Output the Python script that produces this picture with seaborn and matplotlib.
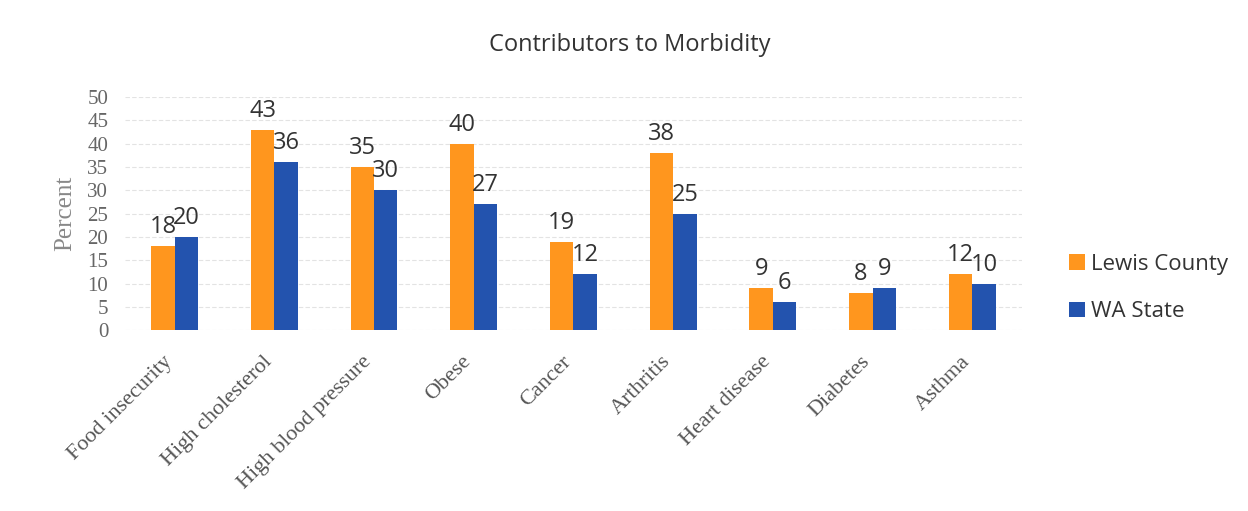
import pandas as pd
import numpy as np
import seaborn as sns
import matplotlib.pyplot as plt
import matplotlib.transforms as mtransforms

categories = ['Food insecurity', 'High cholesterol', 'High blood pressure', 'Obese',
              'Cancer', 'Arthritis', 'Heart disease', 'Diabetes', 'Asthma']
lewis_county = [18, 43, 35, 40, 19, 38, 9, 8, 12]
wa_state = [20, 36, 30, 27, 12, 25, 6, 9, 10]
series_names = ['Lewis County', 'WA State']
yticks = list(range(0, 55, 5))

df = pd.DataFrame({
    'category': categories * 2,
    'percent': lewis_county + wa_state,
    'area': [series_names[0]] * len(categories) + [series_names[1]] * len(categories),
})

sns.set_style('white')
plt.rcParams['font.family'] = ['Open Sans', 'DejaVu Sans']

fig = plt.figure(figsize=(12.48, 5.11), dpi=100)
ax = fig.add_axes([0.1, 0.354, 0.719, 0.456])

palette = {'Lewis County': '#FF961E', 'WA State': '#2353AE'}
sns.barplot(data=df, x='category', y='percent', hue='area', palette=palette,
            width=0.47, ax=ax, saturation=1, linewidth=0, legend=True)

ax.set_ylim(0, 50)
ax.set_xlim(-0.5, len(categories) - 0.5)
ax.set_yticks(yticks)
ax.yaxis.grid(True, color='#e3e3e3', linestyle=(0, (4, 2)), linewidth=0.8)
ax.set_axisbelow(True)
for s in ax.spines.values():
    s.set_visible(False)

serif = ['Liberation Serif', 'DejaVu Serif']
ax.set_yticklabels([str(t) for t in yticks], family=serif, fontsize=15, color='#666666')
ax.set_xticks(range(len(categories)))
ax.set_xticklabels(categories, rotation=45, ha='right', rotation_mode='anchor',
                   family=serif, fontsize=16, color='#555555')
ax.tick_params(axis='x', length=0, pad=16)
ax.tick_params(axis='y', length=0, pad=12)
ax.set_xlabel('')
ax.set_ylabel('Percent', family=serif, fontsize=18, color='#888888', labelpad=8)

# nudge the rotated category labels a bit to the left, like the original
shift = mtransforms.ScaledTranslation(-12 / 100, 0, fig.dpi_scale_trans)
for lbl in ax.get_xticklabels():
    lbl.set_transform(lbl.get_transform() + shift)

# data labels centred over each bar
for cont in ax.containers:
    ax.bar_label(cont, fmt='%d', padding=5, fontsize=17, color='#333333')

ax.legend(loc='center left', bbox_to_anchor=(1.03, 0.18), frameon=False,
          fontsize=16, handlelength=0.7, handleheight=0.7, handletextpad=0.3,
          labelspacing=1.2, labelcolor='#333333')

fig.text(0.505, 0.912, 'Contributors to Morbidity', ha='center', va='center',
         fontsize=17, color='#333333')

plt.savefig('out.png', dpi=100)
